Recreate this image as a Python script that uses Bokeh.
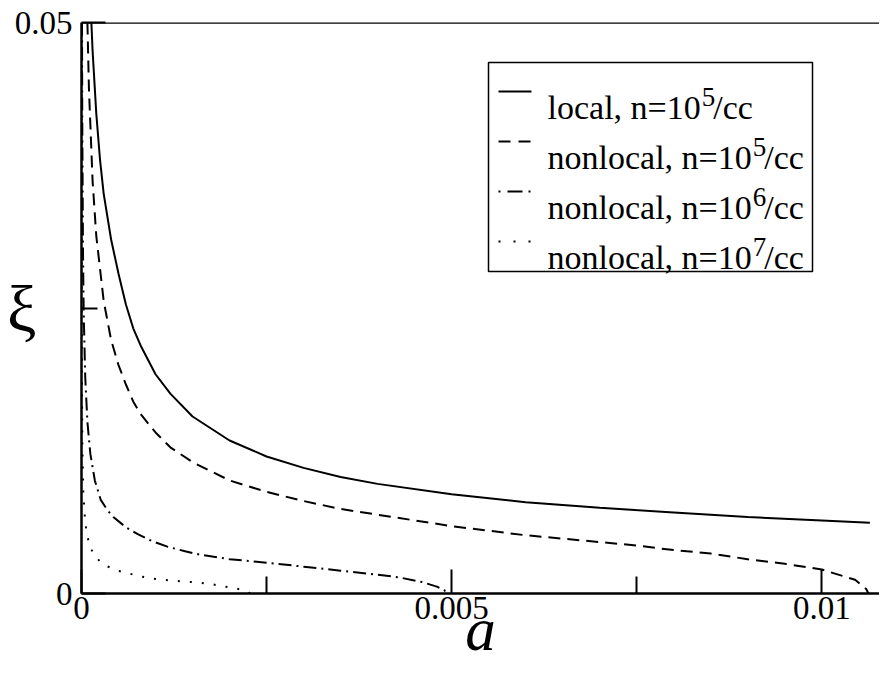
import json
from bokeh.plotting import figure
from bokeh.models import (Range1d, FixedTicker, CustomJSTickFormatter, Label,
                          BoxAnnotation, Arrow, Span, LinearAxis)
from bokeh.embed import file_html
from bokeh.resources import INLINE

# ---------------- data ----------------
a_local = [0.00013, 0.00015, 0.0002, 0.00025, 0.0003, 0.0004, 0.0005, 0.0006,
           0.0007, 0.0008, 0.001, 0.0012, 0.0015, 0.002, 0.0025, 0.003, 0.0035,
           0.004, 0.005, 0.006, 0.007, 0.008, 0.009, 0.01, 0.01065]
xi_local = [0.0505, 0.0475, 0.0420, 0.0380, 0.0350, 0.0310, 0.0280, 0.0253,
            0.0232, 0.0217, 0.0192, 0.0175, 0.0155, 0.0134, 0.0120, 0.0110, 0.0102,
            0.0096, 0.0087, 0.0080, 0.0075, 0.0071, 0.0067, 0.0064, 0.0062]

a_nl5 = [0.00008, 0.0001, 0.00015, 0.0002, 0.0003, 0.0004, 0.0005, 0.0006,
         0.0007, 0.0008, 0.001, 0.0012, 0.0015, 0.002, 0.0025, 0.003, 0.0035,
         0.004, 0.005, 0.006, 0.007, 0.0075, 0.008, 0.0085, 0.009, 0.0095,
         0.01, 0.0102, 0.01045, 0.0106, 0.01063]
xi_nl5 = [0.0500, 0.0443, 0.0361, 0.0313, 0.0256, 0.0222, 0.0200, 0.0183,
          0.0168, 0.0157, 0.0141, 0.0128, 0.0115, 0.0099, 0.0089, 0.0081, 0.0074,
          0.0069, 0.0059, 0.0051, 0.0045, 0.0042, 0.0038, 0.0035, 0.0030, 0.0026,
          0.0021, 0.0017, 0.0012, 0.0004, 0.0]

a_nl6 = [0.000007, 0.00001, 0.00002, 0.00003, 0.00005, 0.00008, 0.00012,
         0.00018, 0.00026, 0.00035, 0.00043, 0.0006, 0.00076, 0.00095, 0.00116,
         0.0014, 0.0016, 0.002, 0.0025, 0.003, 0.0035, 0.004, 0.0043, 0.0046,
         0.0048, 0.0049, 0.00493]
xi_nl6 = [0.0500, 0.0420, 0.0300, 0.0245, 0.0190, 0.0150, 0.0122,
          0.0099, 0.0082, 0.0073, 0.0067, 0.0058, 0.0052, 0.0046, 0.0041,
          0.0037, 0.0034, 0.0030, 0.0027, 0.00235, 0.0020, 0.00165, 0.0014, 0.0010,
          0.0006, 0.0003, 0.0]

a_nl7 = [0.0000008, 0.0000015, 0.000003, 0.000006, 0.000012, 0.000025, 0.00005,
         0.00008, 0.00012, 0.00018, 0.00025, 0.00034, 0.00049, 0.00064, 0.0008,
         0.00096, 0.00111, 0.00127, 0.00145, 0.00161, 0.00177, 0.00192, 0.00208,
         0.00222, 0.00228]
xi_nl7 = [0.050, 0.036, 0.0255, 0.018, 0.0127, 0.0088, 0.0062,
          0.0050, 0.0040, 0.0033, 0.0028, 0.0024, 0.0020, 0.00175, 0.0015,
          0.0013, 0.0012, 0.0011, 0.00102, 0.00094, 0.0008, 0.00062, 0.00044,
          0.00025, 0.0]

x_major_ticks = [0, 0.005, 0.01]
x_minor_ticks = [0.0025, 0.0075]
y_major_ticks = [0, 0.05]
y_minor_ticks = [0.025]

legend_main = ["local, n=10", "nonlocal, n=10", "nonlocal, n=10", "nonlocal, n=10"]
legend_sup = ["5", "5", "6", "7"]
legend_tail = ["/cc", "/cc", "/cc", "/cc"]
x_label = "a"
y_label = "\u03be"

# ---------------- styling ----------------
FONT = "Liberation Serif"
styles = [dict(line_dash="solid"), dict(line_dash="12 7"),
          dict(line_dash="13 5 2 5"), dict(line_dash="2 10")]
legend_dash = ["solid", "12 8", "2 7 15 6", "2 13"]

p = figure(width=879, height=665, output_backend="svg", toolbar_location=None,
           x_range=Range1d(0, 0.01078), y_range=Range1d(0, 0.05),
           min_border_left=81, min_border_right=0, min_border_top=22,
           min_border_bottom=71)
p.outline_line_color = None
p.grid.visible = False
p.background_fill_color = "white"
p.border_fill_color = "white"

fmt = CustomJSTickFormatter(code="return String(tick);")
for ax in (p.xaxis[0], p.yaxis[0]):
    ax.axis_line_width = 2.5
    ax.axis_line_color = "black"
    ax.major_tick_in = 24
    ax.major_tick_out = 0
    ax.minor_tick_out = 0
    ax.major_tick_line_width = 2
    ax.minor_tick_line_width = 2
    ax.major_tick_line_color = "black"
    ax.minor_tick_line_color = "black"
    ax.major_label_text_font = FONT
    ax.major_label_text_font_size = "33px"
    ax.major_label_text_color = "black"
    ax.formatter = fmt
p.xaxis[0].ticker = FixedTicker(ticks=x_major_ticks, minor_ticks=x_minor_ticks)
p.yaxis[0].ticker = FixedTicker(ticks=y_major_ticks, minor_ticks=y_minor_ticks)
p.xaxis[0].minor_tick_in = 17
p.yaxis[0].minor_tick_in = 16
p.xaxis[0].major_label_standoff = 3
p.yaxis[0].major_label_standoff = 9

# x axis title (italic a)
p.xaxis[0].axis_label = x_label
p.xaxis[0].axis_label_text_font = FONT
p.xaxis[0].axis_label_text_font_style = "italic"
p.xaxis[0].axis_label_text_font_size = "61px"
p.xaxis[0].axis_label_text_color = "black"
p.xaxis[0].axis_label_standoff = -26

# y axis title (upright xi) drawn as the single label of an extra, invisible axis
xi_axis = LinearAxis(ticker=FixedTicker(ticks=y_minor_ticks, minor_ticks=[]),
                     formatter=CustomJSTickFormatter(code="return %s;" % json.dumps(y_label)),
                     axis_line_color=None, major_tick_line_color=None,
                     minor_tick_line_color=None, major_tick_in=0, major_tick_out=0,
                     minor_tick_in=0, minor_tick_out=0,
                     major_label_standoff=-25, major_label_text_font=FONT,
                     major_label_text_font_size="66px", major_label_text_color="black")
p.add_layout(xi_axis, "left")

p.add_layout(Span(location=p.y_range.end, dimension="width",
                  line_color="black", line_width=2.5))

series = [(a_local, xi_local), (a_nl5, xi_nl5), (a_nl6, xi_nl6), (a_nl7, xi_nl7)]
for (xs, ys), st in zip(series, styles):
    p.line(xs, ys, line_color="black", line_width=2, **st)

# legend (screen units relative to frame: x from left, y from bottom)
p.add_layout(BoxAnnotation(left=407, right=731, top=531, bottom=322,
                           left_units="screen", right_units="screen",
                           top_units="screen", bottom_units="screen",
                           fill_color="white", fill_alpha=1.0,
                           line_color="black", line_width=1.5, line_alpha=1.0))

W = {"l": .278, "o": .5, "c": .444, "a": .444, "n": .5, ",": .25, " ": .25,
     "=": .564, "1": .5, "0": .5, "/": .278, "5": .5, "6": .5, "7": .5}

def tw(s, size):
    return sum(W.get(ch, .5) for ch in s) * size

LF = 34
SF = 27
for i in range(4):
    ys = 502 - 50 * i
    yb = 486 - 50 * i
    p.add_layout(Arrow(end=None, x_start=417, y_start=ys, x_end=450, y_end=ys,
                       start_units="screen", end_units="screen",
                       line_color="black", line_width=2, line_dash=legend_dash[i]))
    tx = 466
    p.add_layout(Label(x=tx, y=yb, x_units="screen", y_units="screen",
                       text=legend_main[i], text_font=FONT, text_font_size=f"{LF}px",
                       text_baseline="alphabetic", text_color="black"))
    sx = tx + tw(legend_main[i], LF) + 1
    p.add_layout(Label(x=sx, y=yb + 11, x_units="screen", y_units="screen",
                       text=legend_sup[i], text_font=FONT, text_font_size=f"{SF}px",
                       text_baseline="alphabetic", text_color="black"))
    cx = sx + tw(legend_sup[i], SF) - 2
    p.add_layout(Label(x=cx, y=yb, x_units="screen", y_units="screen",
                       text=legend_tail[i], text_font=FONT, text_font_size=f"{LF}px",
                       text_baseline="alphabetic", text_color="black"))

open("out.html", "w").write(file_html(p, INLINE))
